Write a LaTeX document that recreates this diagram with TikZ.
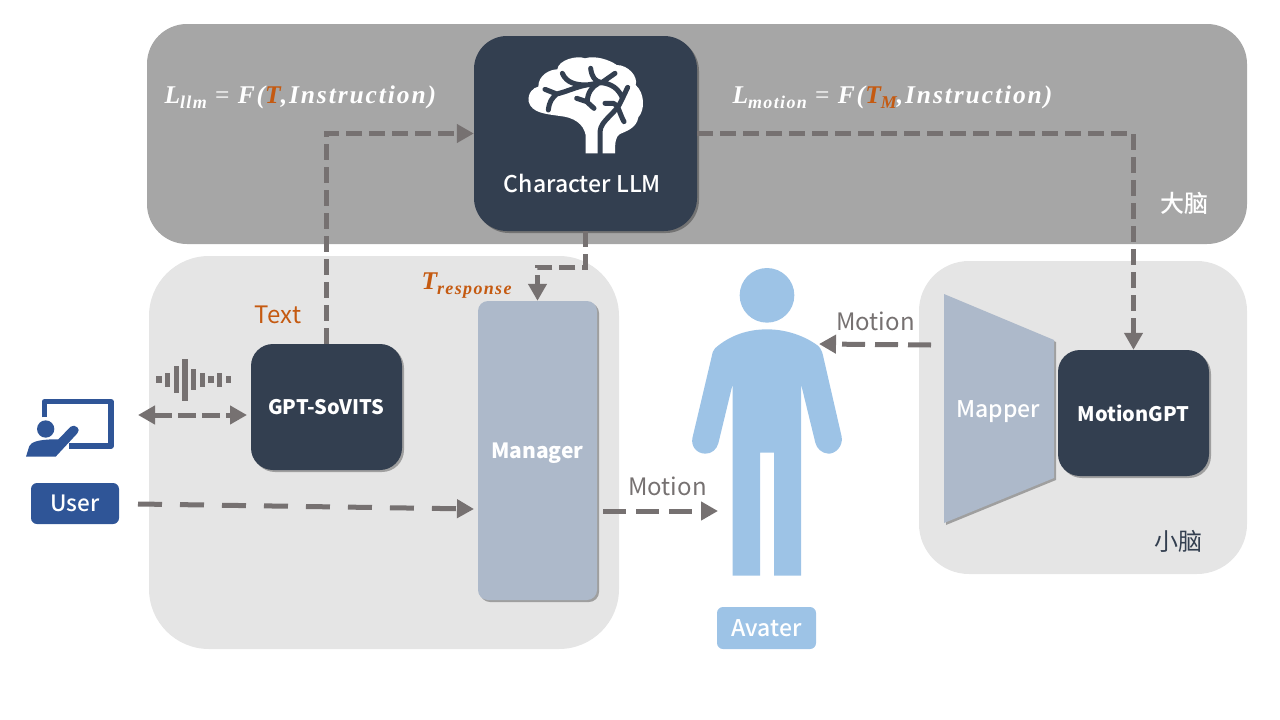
\documentclass[tikz,border=0pt]{standalone}
\usepackage{fontspec}
\setmainfont{Noto Sans CJK SC}
\newfontfamily\medfont{Noto Sans CJK SC Medium}
\newfontfamily\formfont[LetterSpace=7.5]{Liberation Serif}
\usetikzlibrary{arrows.meta,shadows}
\definecolor{zonedark}{HTML}{A6A6A6}
\definecolor{zonelight}{HTML}{E5E5E5}
\definecolor{boxdark}{HTML}{333F50}
\definecolor{boxpale}{HTML}{ADB9CA}
\definecolor{userblue}{HTML}{2F5597}
\definecolor{skyblue}{HTML}{9DC3E6}
\definecolor{linegray}{HTML}{767171}
\definecolor{rust}{HTML}{C55A11}
\newcommand\fsize[1]{\fontsize{#1}{#1}\selectfont}
\newcommand\lowtext[1]{\raisebox{-5pt}{\fsize{18}#1}}
\tikzset{
  zone/.style={rounded corners=#1,inner sep=0pt},
  softshadow/.style={drop shadow={shadow xshift=2pt,shadow yshift=-2pt,fill=black,opacity=.3}},
  darkbox/.style={fill=boxdark,rounded corners=22pt,softshadow,text=white,inner sep=0pt,font=\fsize{20}\bfseries},
  tag/.style={rounded corners=6pt,inner sep=0pt,text=white,font=\fsize{23}\medfont},
  flow/.style={draw=linegray,line width=5pt,dash pattern=on 16pt off 7pt,-{Triangle[length=17pt,width=18pt]}},
  longflow/.style={flow,dash pattern=on 24pt off 18pt},
  graylabel/.style={text=linegray,font=\fsize{24}},
  formula/.style={text=white,font=\fsize{25.5}\formfont\bfseries\itshape}
}
\begin{document}
\begin{tikzpicture}[x=1pt,y=-1pt]
\useasboundingbox (0,0) rectangle (1280,720);

% zones
\node[zone=40pt,fill=zonedark,minimum width=1100pt,minimum height=220pt] (topzone) at (697,134) {};
\node[zone=60pt,fill=zonelight,minimum width=470pt,minimum height=393pt] (leftzone) at (384,452.5) {};
\node[zone=50pt,fill=zonelight,minimum width=328pt,minimum height=313pt] (rightzone) at (1083,417.5) {};

% boxes
\node[darkbox,rounded corners=33pt,minimum width=223pt,minimum height=195pt] (llm) at (585.5,133.5) {};
\node[text=white,font=\fsize{23}\medfont] (llmtext) at (582.5,183) {Character LLM};
\node[darkbox,minimum width=151pt,minimum height=126pt] (gpt) at (326.5,407) {GPT-SoVITS};
\node[darkbox,minimum width=151pt,minimum height=126pt] (motiongpt) at (1133.5,413) {MotionGPT};
\node[fill=boxpale,rounded corners=10pt,softshadow,inner sep=0pt,
  minimum width=119pt,minimum height=299pt] (manager) at (537.5,450.5) {};
\node[text=white,font=\fsize{21}\bfseries] (managertext) at (537.5,453) {Manager};
\fill[boxpale,softshadow] (944,294) -- (1054,340) -- (1054,478) -- (944,523) -- cycle;
\node[text=white,font=\fsize{23}\medfont] (mappertext) at (998.5,412) {Mapper};
\node[tag,fill=userblue,minimum width=88pt,minimum height=41pt,font=\fsize{22.5}\medfont] (user) at (75,503.5) {User};
\node[tag,fill=skyblue,minimum width=99pt,minimum height=42pt] (avater) at (766.5,628) {Avater};

% brain
\begin{scope}[shift={(470,30)},scale=1/3]
\fill[white] (347,370) -- (347,315) .. controls (340,280) and (310,262) .. (270,258)
  .. controls (230,252) and (185,250) .. (176,215)
  .. controls (172,190) and (190,172) .. (205,170)
  .. controls (205,135) and (240,118) .. (262,118)
  .. controls (265,90) and (320,75) .. (345,85)
  .. controls (375,75) and (420,90) .. (440,105)
  .. controls (475,105) and (505,140) .. (497,165)
  .. controls (525,190) and (525,240) .. (505,262)
  .. controls (500,295) and (465,305) .. (450,312)
  .. controls (437,320) and (435,335) .. (435,370) -- cycle;
\draw[boxdark,line width=5pt,line cap=round,line join=round]
  (390,375) -- (390,305) .. controls (392,270) and (440,250) .. (455,210) -- (473,172)
  (405,220) -- (430,220) .. controls (445,222) and (448,250) .. (462,275)
  (362,115) .. controls (365,140) and (375,155) .. (395,158) -- (435,130)
  (277,130) .. controls (290,160) and (320,165) .. (350,165) -- (395,158)
  .. controls (425,162) and (445,175) .. (458,205)
  (225,178) -- (260,192) .. controls (290,185) and (320,170) .. (350,165)
  (235,240) .. controls (238,215) and (245,205) .. (260,192)
  (320,205) -- (350,215) -- (372,235)
  (352,215) .. controls (352,190) and (365,170) .. (385,160);
\end{scope}

% avater figure
\begin{scope}[shift={(680,260)},scale=1/3]
\fill[skyblue] (261,106) circle (82);
\fill[skyblue] (105,265) .. controls (150,225) and (205,208) .. (261,208)
  .. controls (320,208) and (375,228) .. (415,258)
  .. controls (425,268) and (428,280) .. (431,295) -- (485,530)
  .. controls (490,560) and (465,582) .. (445,581)
  .. controls (425,580) and (410,565) .. (406,548) -- (363,372) -- (363,947) -- (282,947)
  -- (282,578) -- (240,578) -- (240,947) -- (158,947) -- (158,372) -- (115,550)
  .. controls (110,568) and (95,582) .. (75,581)
  .. controls (50,580) and (33,560) .. (37,535) -- (95,290)
  .. controls (97,280) and (98,272) .. (105,265) -- cycle;
\end{scope}

% presenter icon
\begin{scope}[shift={(10,340)},scale=1/3]
\draw[userblue,line width=5.3pt,line join=round] (103,232) -- (103,185) -- (303,185) -- (303,318) -- (178,318);
\fill[userblue] (107,267) circle (26);
\fill[userblue] (48,350) -- (58,318) .. controls (65,305) and (85,300) .. (125,298)
  -- (145,298) -- (182,260) .. controls (195,250) and (215,268) .. (202,280) -- (137,350) -- cycle;
\end{scope}

% waveform
\foreach \wx/\wh in {159/7,167.7/14,176.3/27,185/42,193.7/21,202.3/14,211/7,219.7/14,228.3/7}
  \fill[linegray] (\wx-2.7,379.5-\wh/2) rectangle (\wx+2.7,379.5+\wh/2);

% free ends
\coordinate (bend) at (560,267);
\coordinate (soundleft) at (138,415);
\coordinate (soundright) at (247,415);
\coordinate (userout) at (138,504);
\coordinate (managerin) at (474,509);
\coordinate (managerout) at (603,511);
\coordinate (avaterin) at (718,511);
\coordinate (mapperout) at (931,345);
\coordinate (avatershoulder) at (819,344);

% connectors
\draw[flow] (gpt.north) |- (llm.west);
\draw[flow] (llm.east) -| (motiongpt.north);
\draw[flow] (llm.south) |- (bend) -| (manager.north);
\draw[flow,dash pattern=on 18pt off 6pt,{Triangle[length=17pt,width=18pt]}-{Triangle[length=17pt,width=18pt]}] (soundleft) -- (soundright);
\draw[longflow] (userout) -- (managerin);
\draw[flow,dash pattern=on 23pt off 10pt] (managerout) -- (avaterin);
\draw[flow,dash pattern=on 23pt off 10pt] (mapperout) -- (avatershoulder);

% labels
\node[text=rust,font=\fsize{24}] (textlabel) at (278,315) {Text};
\node[graylabel] (motionlow) at (667.5,486) {Motion};
\node[graylabel] (motionhigh) at (875.5,321) {Motion};
\node[formula,anchor=west] (lossllm) at (161,97) {L\lowtext{llm} {\upshape\mdseries =} F({\color{rust}T},Instruction)};
\node[formula,anchor=west] (lossmotion) at (729,97) {L\lowtext{motion} {\upshape\mdseries =} F({\color{rust}T\lowtext{M}},Instruction)};
\node[formula,text=rust,anchor=west] (tresponse) at (418,286) {T\lowtext{response}};
\node[text=white,font=\fsize{24}\medfont] (bigbrain) at (1184,203) {大脑};
\node[text=boxdark,font=\fsize{24}] (smallbrain) at (1178,541) {小脑};
\end{tikzpicture}
\end{document}
